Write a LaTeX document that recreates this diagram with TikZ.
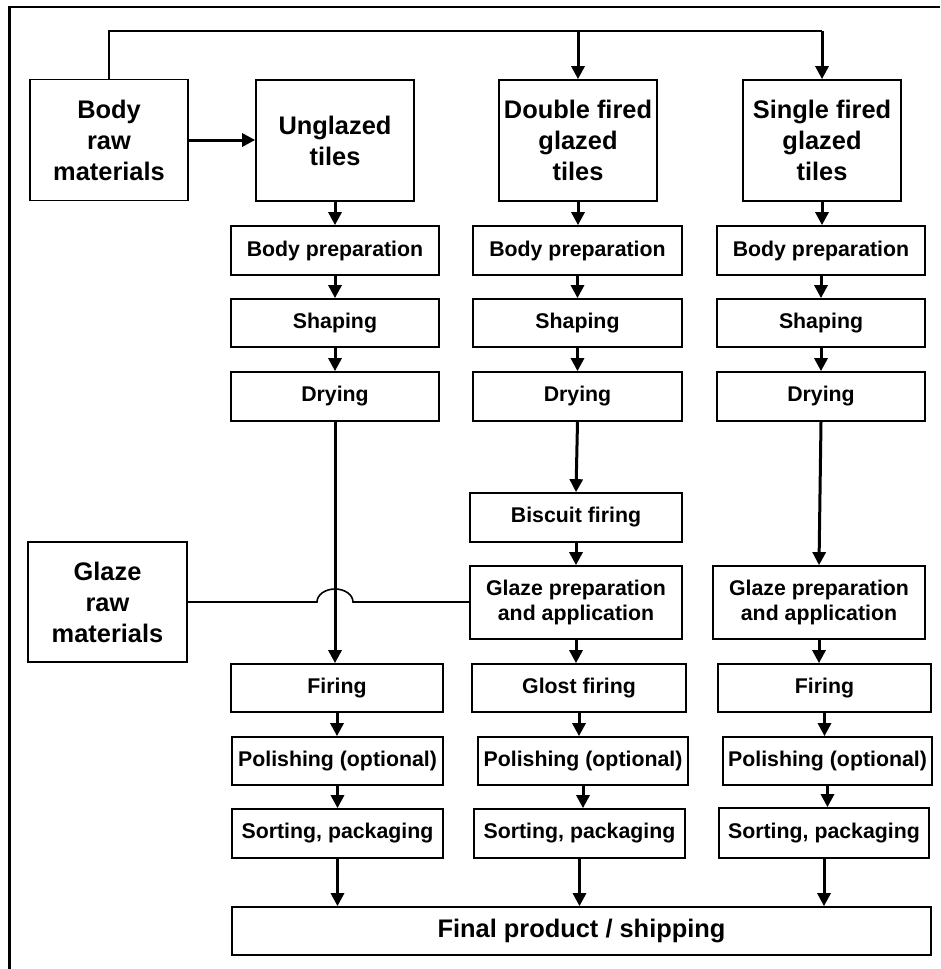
\documentclass[tikz,border=0pt]{standalone}
\usepackage{fontspec}
\setmainfont{Liberation Sans}
\usetikzlibrary{arrows.meta}
\tikzset{
  box/.style={draw, line width=1.7pt, inner sep=0pt, align=center,
    font=\fontsize{21.3}{25}\selectfont\bfseries},
  bigbox/.style={box, minimum width=158pt, minimum height=121pt,
    font=\fontsize{25.4}{31}\selectfont\bfseries},
  arr/.style={line width=3pt, -{Triangle[length=13pt,width=13pt]}},
  thin/.style={line width=1.6pt},
}
\begin{document}
\begin{tikzpicture}[x=1pt,y=-1pt]
\useasboundingbox (0,0) rectangle (940,969);
% frame
\draw[line width=2.4pt] (9.3,969) -- (9.3,6.8) -- (940,6.8);

% top row
\node[bigbox] (braw) at (109,140) {Body\\raw\\materials};
\node[bigbox] (ung) at (335,140.5) {Unglazed\\tiles};
\node[bigbox] (dfi) at (578,140.5) {Double fired\\glazed\\tiles};
\node[bigbox] (sfi) at (822,140.5) {Single fired\\glazed\\tiles};
\node[bigbox, minimum width=159pt, minimum height=120pt] (graw) at (107.5,602) {Glaze\\raw\\materials};

% column 1
\node[box, minimum width=208pt, minimum height=49pt] (bp1) at (335,250.5) {Body preparation};
\node[box, minimum width=208pt, minimum height=48pt] (sh1) at (335,323) {Shaping};
\node[box, minimum width=208pt, minimum height=49pt] (dr1) at (335,396.5) {Drying};
\node[box, minimum width=212pt, minimum height=48pt] (fi1) at (337,688) {Firing};
\node[box, minimum width=211pt, minimum height=48pt] (po1) at (337.5,761) {Polishing (optional)};
\node[box, minimum width=211pt, minimum height=49pt] (so1) at (337.5,833.5) {Sorting, packaging};

% column 2
\node[box, minimum width=209pt, minimum height=49pt] (bp2) at (577.5,250.5) {Body preparation};
\node[box, minimum width=209pt, minimum height=48pt] (sh2) at (577.5,323) {Shaping};
\node[box, minimum width=209pt, minimum height=49pt] (dr2) at (577.5,396.5) {Drying};
\node[box, minimum width=212pt, minimum height=49pt] (bi2) at (576,517.5) {Biscuit firing};
\node[box, minimum width=212pt, minimum height=73pt] (gp2) at (576,602.5) {Glaze preparation\\and application};
\node[box, minimum width=214pt, minimum height=48pt] (gl2) at (579,688) {Glost firing};
\node[box, minimum width=210pt, minimum height=48pt] (po2) at (583,761) {Polishing (optional)};
\node[box, minimum width=211pt, minimum height=49pt] (so2) at (579.5,833.5) {Sorting, packaging};

% column 3
\node[box, minimum width=208pt, minimum height=49pt] (bp3) at (821,250.5) {Body preparation};
\node[box, minimum width=208pt, minimum height=48pt] (sh3) at (821,323) {Shaping};
\node[box, minimum width=208pt, minimum height=49pt] (dr3) at (821,396.5) {Drying};
\node[box, minimum width=212pt, minimum height=73pt] (gp3) at (819,602.5) {Glaze preparation\\and application};
\node[box, minimum width=213pt, minimum height=48pt] (fi3) at (824.5,688) {Firing};
\node[box, minimum width=209pt, minimum height=48pt] (po3) at (827.5,761) {Polishing (optional)};
\node[box, minimum width=210pt, minimum height=50pt] (so3) at (824,833) {Sorting, packaging};

% final
\node[box, minimum width=699pt, minimum height=48pt, font=\fontsize{25.4}{31}\selectfont\bfseries] (fin) at (581.5,931) {Final product / shipping};

% top distribution line
\coordinate (tl) at (109,31);
\coordinate (tr) at (sfi.north |- tl);
\draw[thin] (braw.north) -- (tl) -- (tr);
\draw[arr] (dfi.north |- tl) -- (dfi.north);
\draw[arr] (tr) -- (sfi.north);
\draw[arr] (braw.east) -- (braw.east -| ung.west);

% column 1 arrows
\draw[arr] (ung.south) -- (ung.south |- bp1.north);
\draw[arr] (bp1.south) -- (bp1.south |- sh1.north);
\draw[arr] (sh1.south) -- (sh1.south |- dr1.north);
\draw[arr] (dr1.south) -- (dr1.south |- fi1.north);
\draw[arr] (fi1.south) -- (fi1.south |- po1.north);
\draw[arr] (po1.south) -- (po1.south |- so1.north);
\draw[arr] (so1.south) -- (so1.south |- fin.north);

% column 2 arrows
\draw[arr] (dfi.south) -- (dfi.south |- bp2.north);
\draw[arr] (bp2.south) -- (bp2.south |- sh2.north);
\draw[arr] (sh2.south) -- (sh2.south |- dr2.north);
\draw[arr] (dr2.south) -- (bi2.north);
\draw[arr] (bi2.south) -- (bi2.south |- gp2.north);
\draw[arr] (gp2.south) -- (gp2.south |- gl2.north);
\draw[arr] (gl2.south) -- (gl2.south |- po2.north);
\draw[arr] (po2.south) -- (po2.south |- so2.north);
\draw[arr] (so2.south) -- (so2.south |- fin.north);

% column 3 arrows
\draw[arr] (sfi.south) -- (sfi.south |- bp3.north);
\draw[arr] (bp3.south) -- (bp3.south |- sh3.north);
\draw[arr] (sh3.south) -- (sh3.south |- dr3.north);
\draw[arr] (dr3.south) -- (gp3.north);
\draw[arr] (gp3.south) -- (gp3.south |- fi3.north);
\draw[arr] (fi3.south) -- (fi3.south |- po3.north);
\draw[arr] (po3.south) -- (po3.south |- so3.north);
\draw[arr] (so3.south) -- (so3.south |- fin.north);

% glaze raw line with hop
\coordinate (hop) at (dr1.south |- graw.east);
\draw[thin] (graw.east) -- ([xshift=-18pt]hop)
  arc[start angle=180, end angle=0, x radius=18pt, y radius=13pt]
  -- (graw.east -| gp2.west);
\end{tikzpicture}
\end{document}
